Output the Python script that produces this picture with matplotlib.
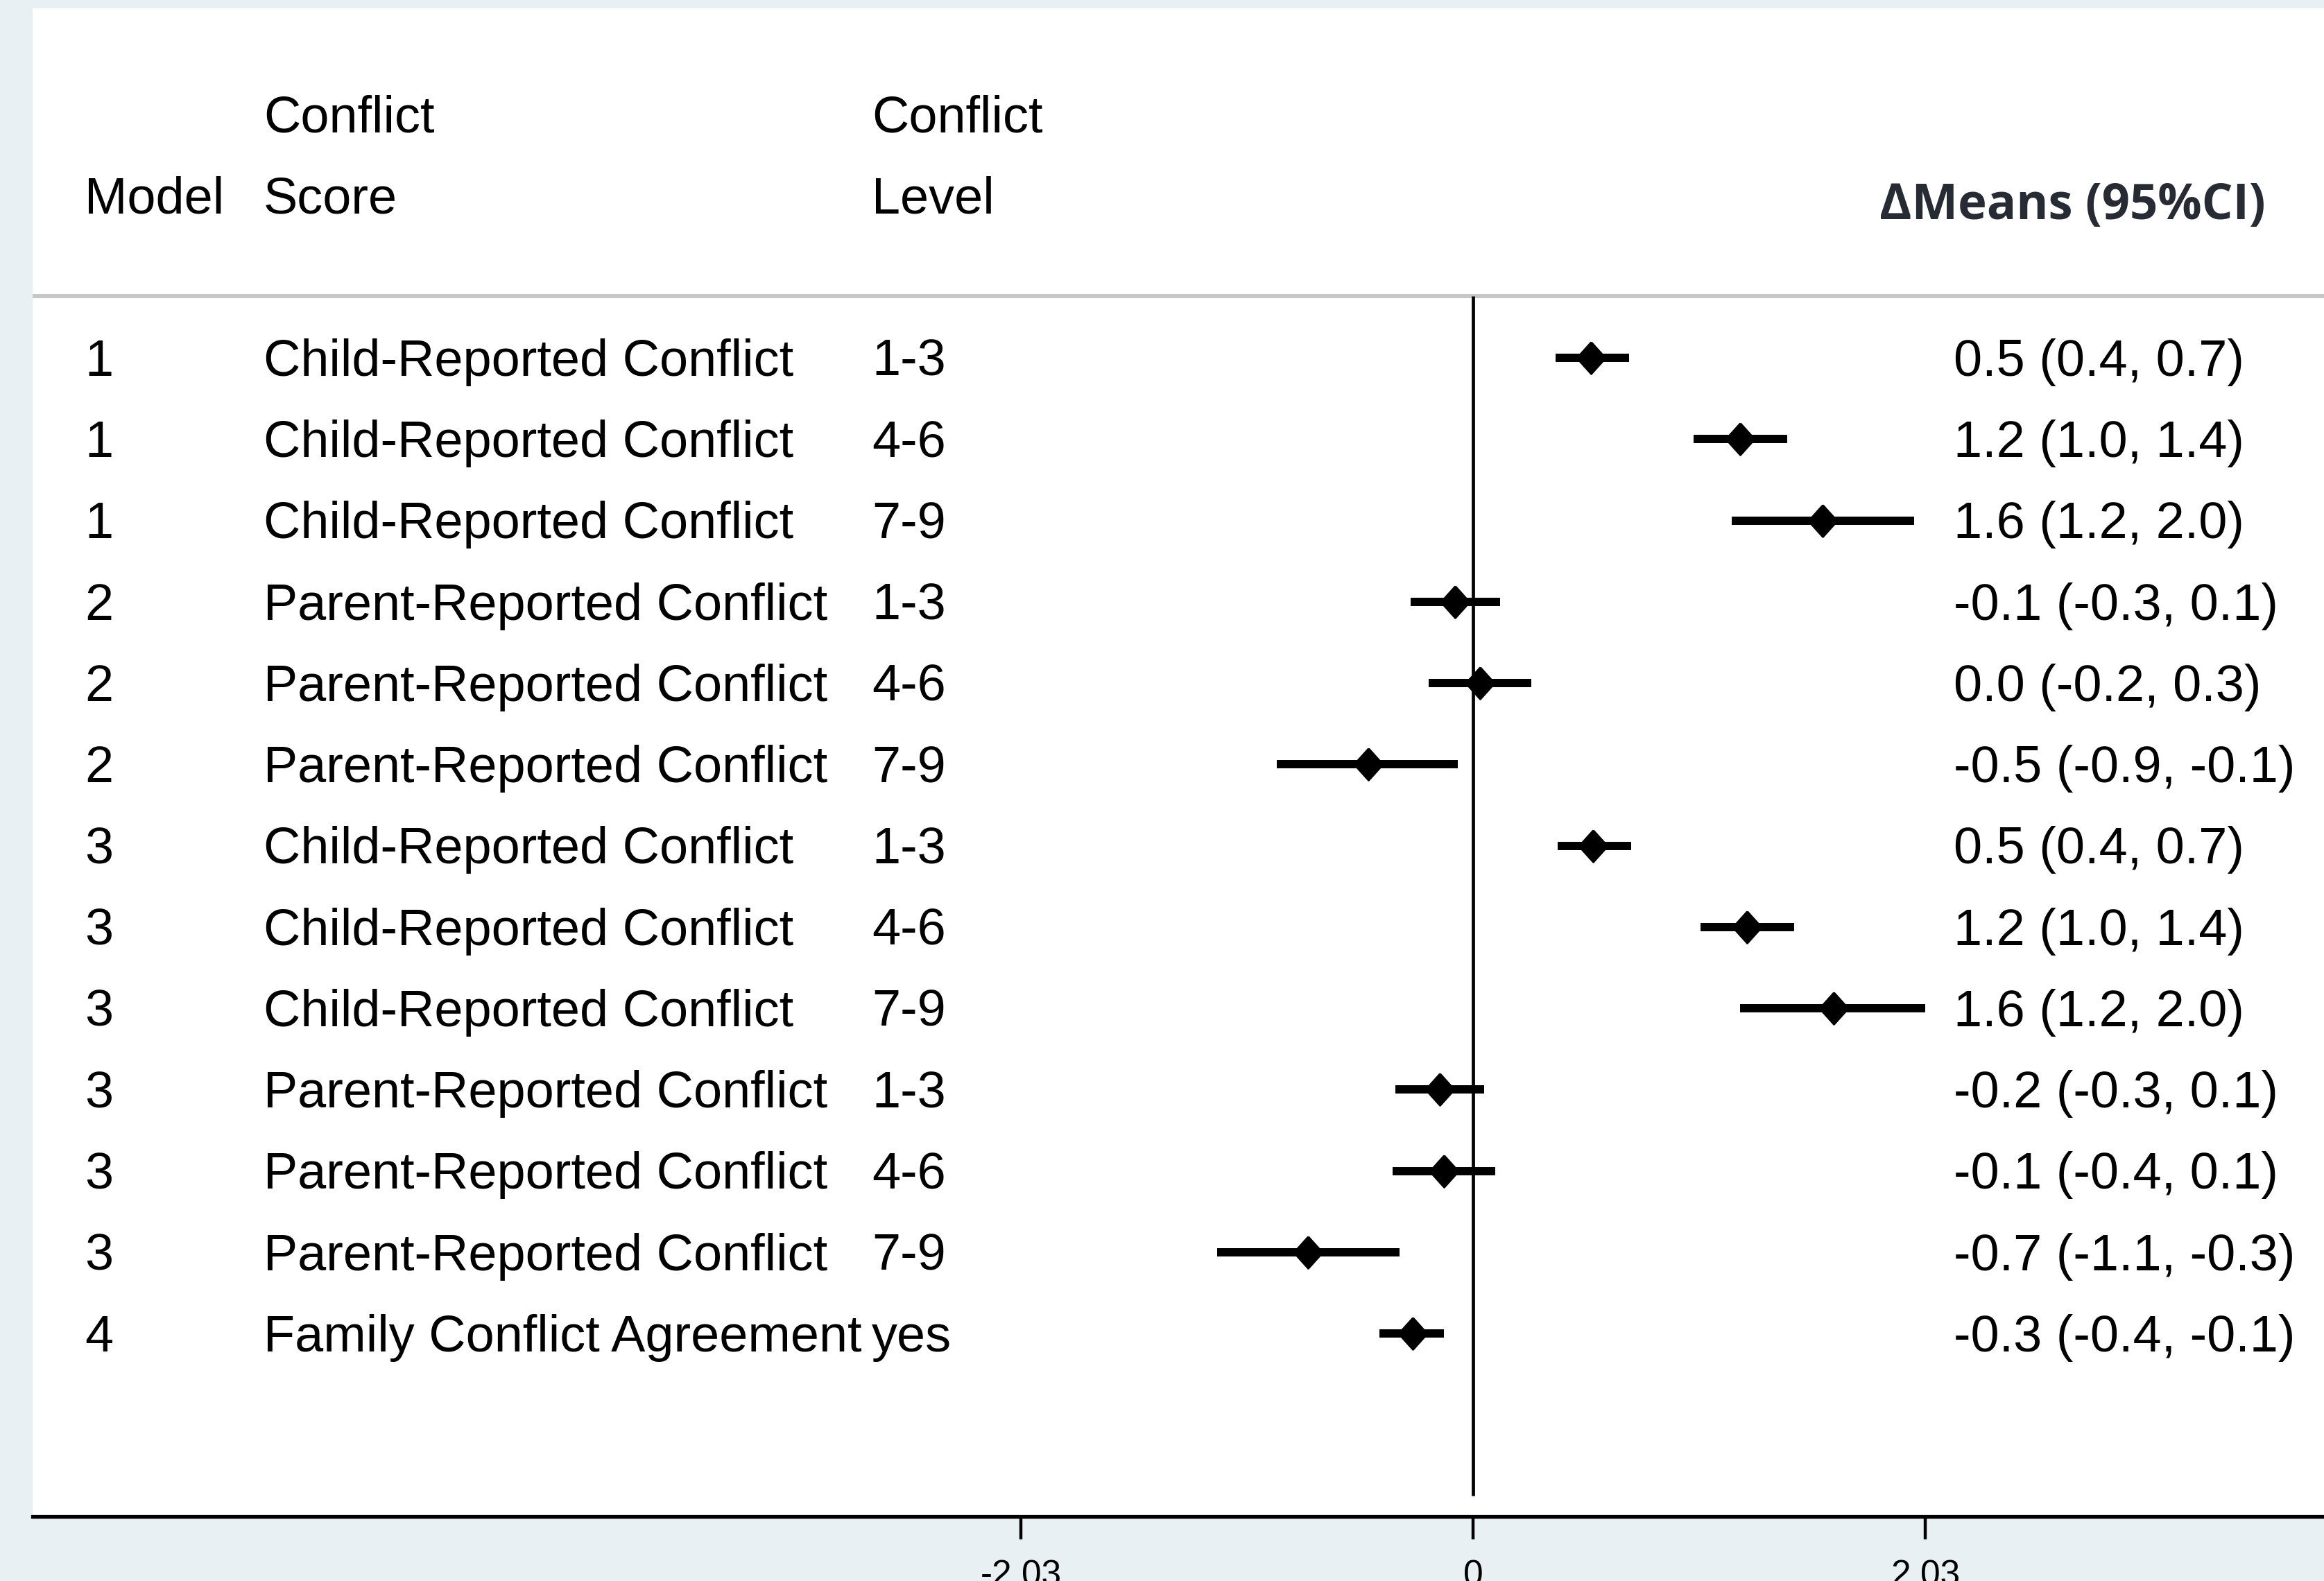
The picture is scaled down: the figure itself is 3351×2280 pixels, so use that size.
import numpy as np
import matplotlib
matplotlib.use("Agg")
import matplotlib.pyplot as plt

plt.rcParams['font.family'] = ['Liberation Sans', 'DejaVu Sans']

# table rows
models = ['1', '1', '1', '2', '2', '2', '3', '3', '3', '3', '3', '3', '4']
scores = ['Child-Reported Conflict'] * 3 + ['Parent-Reported Conflict'] * 3 + \
         ['Child-Reported Conflict'] * 3 + ['Parent-Reported Conflict'] * 3 + \
         ['Family Conflict Agreement']
levels = ['1-3', '4-6', '7-9', '1-3', '4-6', '7-9',
          '1-3', '4-6', '7-9', '1-3', '4-6', '7-9', 'yes']

# estimates and 95% CI
est = [0.53, 1.20, 1.57, -0.08, 0.03, -0.47, 0.54, 1.23, 1.62, -0.15, -0.13, -0.74, -0.27]
lo = [0.37, 0.99, 1.16, -0.28, -0.20, -0.88, 0.38, 1.02, 1.20, -0.35, -0.36, -1.15, -0.42]
hi = [0.70, 1.41, 1.98, 0.12, 0.26, -0.07, 0.71, 1.44, 2.03, 0.05, 0.10, -0.33, -0.13]
ci_labels = ['0.5 (0.4, 0.7)', '1.2 (1.0, 1.4)', '1.6 (1.2, 2.0)',
             '-0.1 (-0.3, 0.1)', '0.0 (-0.2, 0.3)', '-0.5 (-0.9, -0.1)',
             '0.5 (0.4, 0.7)', '1.2 (1.0, 1.4)', '1.6 (1.2, 2.0)',
             '-0.2 (-0.3, 0.1)', '-0.1 (-0.4, 0.1)', '-0.7 (-1.1, -0.3)',
             '-0.3 (-0.4, -0.1)']

xticks = [-2.03, 0, 2.03]
xtick_labels = ['-2.03', '0', '2.03']

W, H, DPI = 3351, 2280, 200
fig = plt.figure(figsize=(W / DPI, H / DPI), dpi=DPI, facecolor='#e8f0f3')
ax = fig.add_axes([47 / W, (H - 2187) / H, 1 - 47 / W, (2187 - 12) / H])
ax.set_facecolor('white')

# x scale: 321.2 px per unit, zero at px 2124
ax.set_xlim((47 - 2124) / 321.2, (W - 2124) / 321.2)
ax.set_ylim(15.25, -3.30)

y = np.arange(1, len(est) + 1)

ax.axhline(0.24, color='#c6c6c6', lw=2.2)
ax.vlines(0, 0.24, 14.99, color='black', lw=1.7)
ax.hlines(y, lo, hi, color='black', lw=4.3)
diamond = [(0, 1), (0.9, 0), (0, -1), (-0.9, 0), (0, 1)]
ax.plot(est, y, ls='none', marker=diamond, ms=16.5, mew=1, mec='black',
        color='black')

for s in ['top', 'left', 'right']:
    ax.spines[s].set_visible(False)
ax.spines['bottom'].set_linewidth(1.9)
ax.set_yticks([])
ax.set_xticks(xticks)
ax.set_xticklabels(xtick_labels, fontsize=18.5)
ax.tick_params(axis='x', length=12, width=1.6, pad=10)

tr = ax.get_yaxis_transform()
fs = 26.6
off = 0.22
x_model, x_score, x_level, x_ci = 0.0227, 0.1008, 0.3662, 0.8384

ax.text(x_score, -2 + off, 'Conflict', transform=tr, fontsize=fs, va='baseline')
ax.text(x_level, -2 + off, 'Conflict', transform=tr, fontsize=fs, va='baseline')
ax.text(x_model, -1 + off, 'Model', transform=tr, fontsize=fs, va='baseline')
ax.text(x_score, -1 + off, 'Score', transform=tr, fontsize=fs, va='baseline')
ax.text(x_level, -1 + off, 'Level', transform=tr, fontsize=fs, va='baseline')
ax.text(0.9746, -0.93 + off, 'ΔMeans (95%CI)', transform=tr, fontsize=25.4,
        fontweight='bold', family=['Open Sans', 'DejaVu Sans'], color='#272b33',
        ha='right', va='baseline')

for i in range(len(est)):
    ax.text(x_model, y[i] + off, models[i], transform=tr, fontsize=fs, va='baseline')
    ax.text(x_score, y[i] + off, scores[i], transform=tr, fontsize=fs, va='baseline')
    ax.text(x_level, y[i] + off, levels[i], transform=tr, fontsize=fs, va='baseline')
    ax.text(x_ci, y[i] + off, ci_labels[i], transform=tr, fontsize=fs, va='baseline')

fig.savefig('out.png', dpi=DPI, facecolor=fig.get_facecolor())
